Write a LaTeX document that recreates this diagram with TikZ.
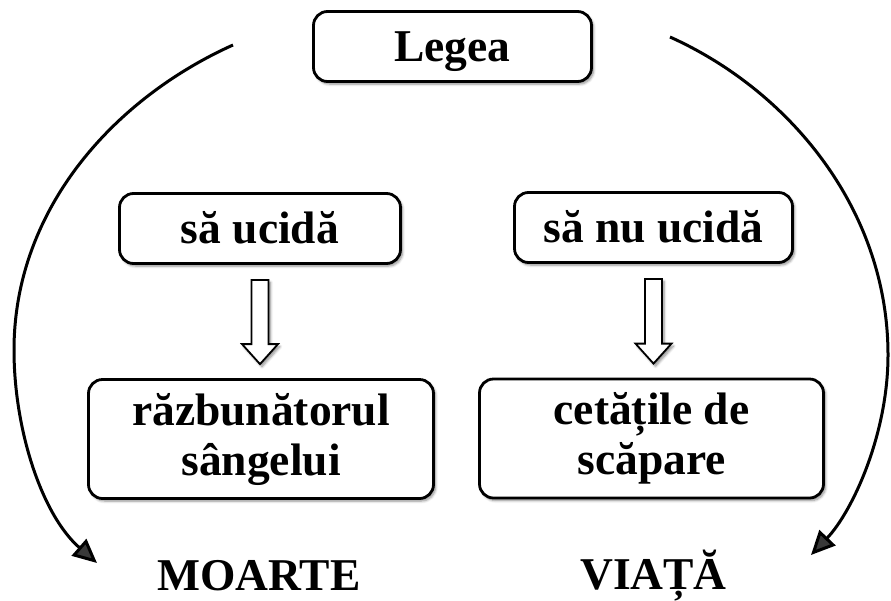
\documentclass[tikz,border=0pt]{standalone}
\usepackage{fontspec}
\setmainfont{Liberation Serif}
\usetikzlibrary{arrows.meta,calc,shadows.blur}
\begin{document}
\begin{tikzpicture}[x=1pt,y=-1pt,
  myshadow/.style={blur shadow={shadow xshift=2pt, shadow yshift=-2.5pt, shadow blur steps=6, shadow blur radius=2.5pt, shadow opacity=45}},
  box/.style={draw, line width=2.8pt, rounded corners=14pt, fill=white, myshadow,
    font=\fontsize{45.5}{50}\selectfont\bfseries, inner sep=0pt},
  onebox/.style={box, text height=30pt, text depth=0pt, minimum height=70pt},
  twobox/.style={box, align=center, minimum height=119pt},
  biglabel/.style={font=\fontsize{45.5}{50}\selectfont\bfseries, anchor=base, inner sep=0pt},
  curve/.style={line width=3pt, -{Triangle[length=24pt,width=22pt]}},
  hollow/.style={draw, line width=1.8pt, fill=white, line join=miter, myshadow}
]
\useasboundingbox (0,0) rectangle (891,600);

\node[onebox, minimum width=278pt] (lege) at (452.5,46.5) {Legea};
\node[onebox, minimum width=281pt] (u1) at (260,228.5) {să ucidă};
\node[onebox, minimum width=278pt] (u2) at (653.5,227.5) {să nu ucidă};
\node[twobox, minimum width=345pt] (r1) at (261,439) {răzbunătorul\\sângelui};
\node[twobox, minimum width=344pt] (r2) at (651.5,438.5) {cetățile de\\scăpare};

\node[biglabel] (moarte) at (259,590) {MOARTE};
\node[biglabel] (viata) at (653.5,589) {VIAȚĂ};

\draw[hollow] let \p1=($(u1.south)+(0,15)$), \p2=($(r1.north)+(0,-14)$) in
  (\x1-8.5pt,\y1) -- (\x1+8.5pt,\y1) -- (\x1+8.5pt,\y2+20pt) -- (\x1+18pt,\y2+20pt)
  -- (\x1,\y2) -- (\x1-18pt,\y2+20pt) -- (\x1-8.5pt,\y2+20pt) -- cycle;
\draw[hollow] let \p1=($(u2.south)+(0,15)$), \p2=($(r2.north)+(0,-14)$) in
  (\x1-8.5pt,\y1) -- (\x1+8.5pt,\y1) -- (\x1+8.5pt,\y2+20pt) -- (\x1+18pt,\y2+20pt)
  -- (\x1,\y2) -- (\x1-18pt,\y2+20pt) -- (\x1-8.5pt,\y2+20pt) -- cycle;

\coordinate (ls) at (233,45);
\coordinate (le) at (97,563);
\coordinate (rs) at (670,37);
\coordinate (re) at (811,555);
\draw[curve] (ls) .. controls (113,99) and (14,210) .. (14,350)
  .. controls (14,430) and (42,515) .. (le);
\draw[curve] (rs) .. controls (790,91) and (888,210) .. (888,355)
  .. controls (888,435) and (852,512) .. (re);
\end{tikzpicture}
\end{document}
